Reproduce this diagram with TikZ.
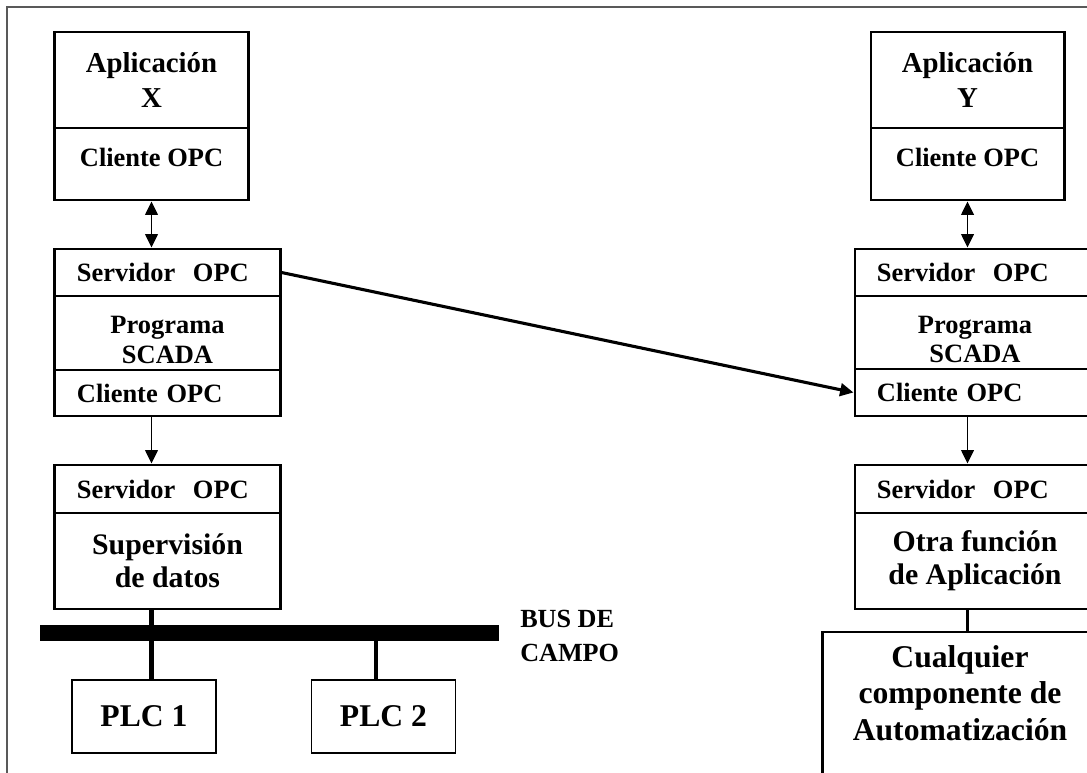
\documentclass[tikz,border=0pt]{standalone}
\usepackage{fontspec}
\setmainfont{Liberation Serif}
\usetikzlibrary{arrows.meta, positioning, calc}
\newcommand{\apptxt}{\fontsize{20.5pt}{24.9pt}\selectfont\bfseries}
\newcommand{\opctxt}{\fontsize{18.8pt}{21.3pt}\selectfont\bfseries}
\newcommand{\funtxt}{\fontsize{21.2pt}{23.5pt}\selectfont\bfseries}
\newcommand{\plctxt}{\fontsize{22.5pt}{26pt}\selectfont\bfseries}
\tikzset{
  secbox/.style={draw, line width=2.1pt, inner sep=0pt, align=center},
  opcleft/.style={secbox, align=left, text width=#1, inner xsep=0.55cm, font=\opctxt},
  plcbox/.style={draw, line width=1.1pt, minimum width=3.6cm, minimum height=1.825cm, inner sep=0pt, font=\plctxt},
  tiparrow/.style={-{Triangle[length=9.5pt,width=9pt]}, line width=1.1pt},
  dblarrow/.style={{Triangle[length=9.5pt,width=9pt]}-{Triangle[length=9.5pt,width=9pt]}, line width=1.1pt},
}

\begin{document}
\begin{tikzpicture}[x=0.025cm, y=-0.025cm]
\useasboundingbox (0,0) rectangle (1087,773);
\clip (0,0) rectangle (1087,773);
\draw[line width=0.8pt, gray!70!black] (7,800) -- (7,7) -- (1100,7);

% columna izquierda
\node[secbox, minimum width=4.825cm, minimum height=2.4cm, font=\apptxt] (appX) at (151.5,80) {Aplicación\\X};
\node[secbox, minimum width=4.825cm, minimum height=1.8cm, font=\opctxt, text depth=0.35cm] (cliX) at (151.5,164) {Cliente OPC};
\node[opcleft=4.525cm, minimum height=1.175cm] (sX) at (167.5,272.5) {Servidor\ \ OPC};
\node[secbox, minimum width=5.625cm, minimum height=1.85cm, font=\opctxt, text height=1.53cm] (prgX) at (167.5,333) {Programa\\SCADA};
\node[opcleft=4.525cm, minimum height=1.15cm] (cliXb) at (167.5,393) {Cliente OPC};
\node[opcleft=4.525cm, minimum height=1.2cm] (srvX) at (167.5,489) {Servidor\ \ OPC};
\node[secbox, minimum width=5.625cm, minimum height=2.4cm, font=\funtxt] (supX) at (167.5,561) {Supervisión\\de datos};

\node[fill, minimum width=11.475cm, minimum height=0.4cm, inner sep=0pt] (bus) at (269.5,633) {};
\node[anchor=west, align=left, inner sep=0pt, font=\fontsize{18.6pt}{24.2pt}\selectfont\bfseries] (busl) at (520,636) {BUS DE\\CAMPO};
\node[plcbox] (plc1) at (144,716.5) {PLC 1};
\node[plcbox] (plc2) at (383.5,716.5) {PLC 2};
\coordinate (tap2) at (376,633);

% columna derecha
\node[secbox, minimum width=4.825cm, minimum height=2.4cm, font=\apptxt] (appY) at (967.5,80) {Aplicación\\Y};
\node[secbox, minimum width=4.825cm, minimum height=1.8cm, font=\opctxt, text depth=0.35cm] (cliY) at (967.5,164) {Cliente OPC};
\node[opcleft=4.9cm, minimum height=1.175cm] (sY) at (975,272.5) {Servidor\ \ OPC};
\node[secbox, minimum width=6cm, minimum height=1.825cm, font=\opctxt, text height=1.53cm] (prgY) at (975,332.5) {Programa\\SCADA};
\node[opcleft=4.9cm, minimum height=1.175cm] (cliYb) at (975,392.5) {Cliente OPC};
\node[opcleft=4.9cm, minimum height=1.2cm] (srvY) at (975,489) {Servidor\ \ OPC};
\node[secbox, minimum width=6cm, minimum height=2.4cm, font=\funtxt] (otrY) at (975,561) {Otra función\\de Aplicación};
\node[secbox, minimum width=6.85cm, minimum height=4.45cm, font=\plctxt, text depth=1.4cm] (cmpY) at (960,721) {Cualquier\\componente de\\Automatización};

\draw[dblarrow] (cliX.south) -- (cliX.south |- sX.north);
\draw[tiparrow] (cliX.south |- cliXb.south) -- (cliX.south |- srvX.north);
\draw[line width=3.5pt] (appX.center |- supX.south) -- (appX.center |- plc1.north);
\draw[line width=3.5pt] (tap2) -- (tap2 |- plc2.north);
\draw[dblarrow] (cliY.south) -- (cliY.south |- sY.north);
\draw[tiparrow] (cliY.south |- cliYb.south) -- (cliY.south |- srvY.north);
\draw[line width=2.4pt] (appY.center |- otrY.south) -- (appY.center |- cmpY.north);
\draw[tiparrow, line width=2.2pt] (sX.east) -- (cliYb.west);
\end{tikzpicture}
\end{document}
